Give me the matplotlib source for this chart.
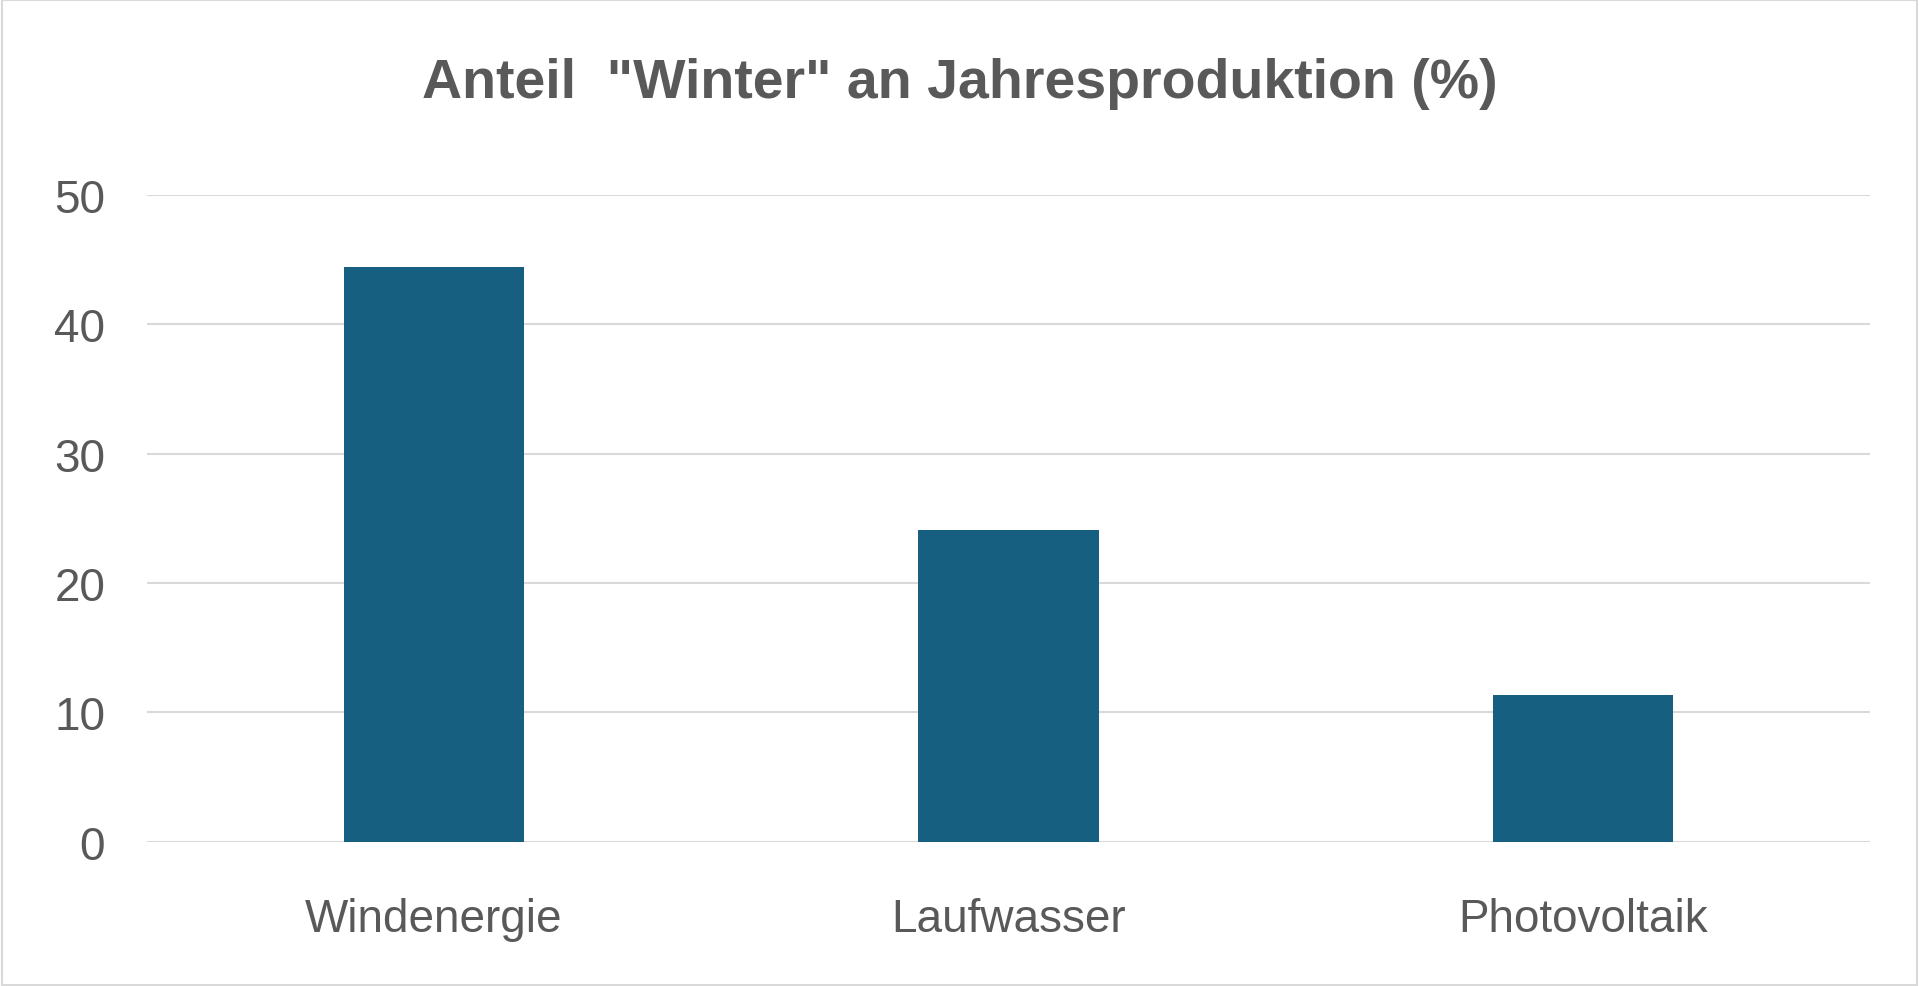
import matplotlib
matplotlib.use("Agg")
import matplotlib.pyplot as plt
from matplotlib.patches import Rectangle

categories = ["Windenergie", "Laufwasser", "Photovoltaik"]
values = [44.4, 24.05, 11.3]
yticks = [0, 10, 20, 30, 40, 50]

plt.rcParams['font.family'] = ['Liberation Sans', 'DejaVu Sans']
fig = plt.figure(figsize=(19.19, 9.87), dpi=100)
ax = fig.add_axes([0.0765, 0.1464, 0.898, 0.6551])
ax.bar(range(len(categories)), values, width=0.314, color="#175f80", zorder=3)
ax.set_xlim(-0.5, 2.5)
ax.set_ylim(0, 50)
ax.set_yticks(yticks)
ax.set_xticks(range(len(categories)))
ax.set_xticklabels(categories)
ax.grid(axis='y', color="#d9d9d9", linewidth=1.5, zorder=0)
for s in ax.spines.values():
    s.set_visible(False)
ax.tick_params(length=0, labelsize=33, colors="#595959", pad=14)
ax.tick_params(axis='x', pad=40)
ax.tick_params(axis='y', pad=30)
fig.text(0.5, 0.915, 'Anteil  "Winter" an Jahresproduktion (%)', ha='center', va='center',
         fontsize=40, fontweight='bold', color="#595959")
fig.patches.append(Rectangle((0.001, 0.001), 0.998, 0.998, transform=fig.transFigure,
                             fill=False, edgecolor="#d9d9d9", linewidth=1.5))
fig.savefig("out.png", dpi=100)
